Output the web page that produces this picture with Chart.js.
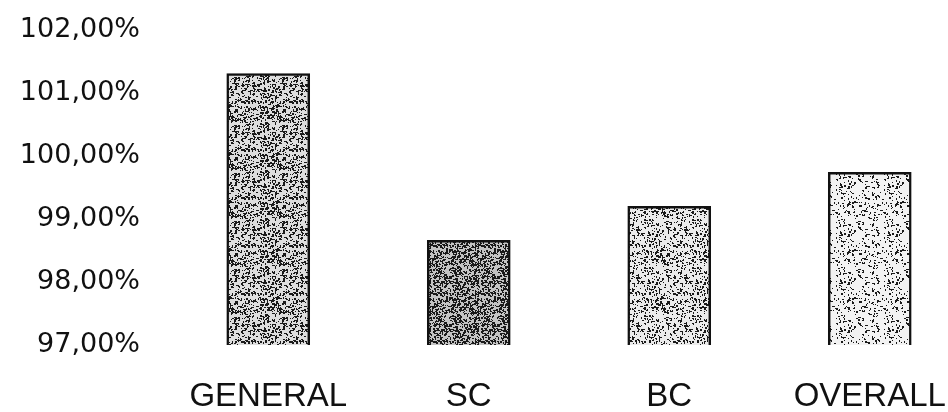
<!DOCTYPE html>
<html>
<head>
<meta charset="utf-8">
<script src="https://cdn.jsdelivr.net/npm/chart.js@4"></script>
<style>
  html, body { margin: 0; padding: 0; background: #fff; overflow: hidden; }
  #wrap { width: 948px; height: 412px; overflow: hidden; }
</style>
</head>
<body>
<div id="wrap"><canvas id="c" width="970" height="412"></canvas></div>
<script>
// Categories and their percentage values
const categories = ['GENERAL', 'SC', 'BC', 'OVERALL'];
const values = [101.31, 98.66, 99.20, 99.74];
// Y axis range and tick step (percent)
const yMin = 97;
const yMax = 102;
const yStep = 1;

// Stippled fill: a small tile with a fixed dot layout of given density
function stipple(density, base) {
  const s = 48;
  const cv = document.createElement('canvas');
  cv.width = s; cv.height = s;
  const g = cv.getContext('2d');
  g.fillStyle = base;
  g.fillRect(0, 0, s, s);
  g.fillStyle = '#1a1a1a';
  let seed = 12345;
  const next = () => { seed = (seed * 1103515245 + 12345) & 0x7fffffff; return seed / 0x7fffffff; };
  const n = Math.round(s * s * density);
  for (let i = 0; i < n; i++) {
    const x = Math.floor(next() * s), y = Math.floor(next() * s);
    const w = next() < 0.4 ? 2 : 1;
    g.fillRect(x, y, w, 1 + (next() < 0.3 ? 1 : 0));
  }
  return g.createPattern(cv, 'repeat');
}

const ctx = document.getElementById('c').getContext('2d');
const fills = [
  stipple(0.24, '#dedede'),
  stipple(0.36, '#c4c4c4'),
  stipple(0.17, '#ebebeb'),
  stipple(0.10, '#f2f2f2')
];

new Chart(ctx, {
  type: 'bar',
  data: {
    labels: categories,
    datasets: [{
      data: values,
      backgroundColor: fills,
      borderColor: '#111',
      borderWidth: 2.5,
      borderSkipped: false,
      barThickness: 83
    }]
  },
  options: {
    responsive: false,
    animation: false,
    layout: { padding: { top: 30, right: 0, left: 0, bottom: 0 } },
    plugins: { legend: { display: false }, tooltip: { enabled: false } },
    scales: {
      x: {
        grid: { display: false, drawTicks: false },
        border: { display: false },
        ticks: {
          color: '#111',
          padding: 32,
          font: { family: 'Liberation Sans, Arial, sans-serif', size: 33 }
        },
        afterFit: (s) => { s.height = 67; s.paddingLeft = 0; s.paddingRight = 0; }
      },
      y: {
        min: yMin,
        max: yMax,
        grid: { display: false, drawTicks: false },
        border: { display: false },
        ticks: {
          stepSize: yStep,
          color: '#111',
          padding: 28,
          font: { family: 'DejaVu Sans, sans-serif', size: 27 },
          callback: (v) => v.toFixed(2).replace('.', ',') + '%'
        },
        afterFit: (s) => { s.width = 168; s.paddingTop = 0; s.paddingBottom = 0; }
      }
    }
  }
});
</script>
</body>
</html>
